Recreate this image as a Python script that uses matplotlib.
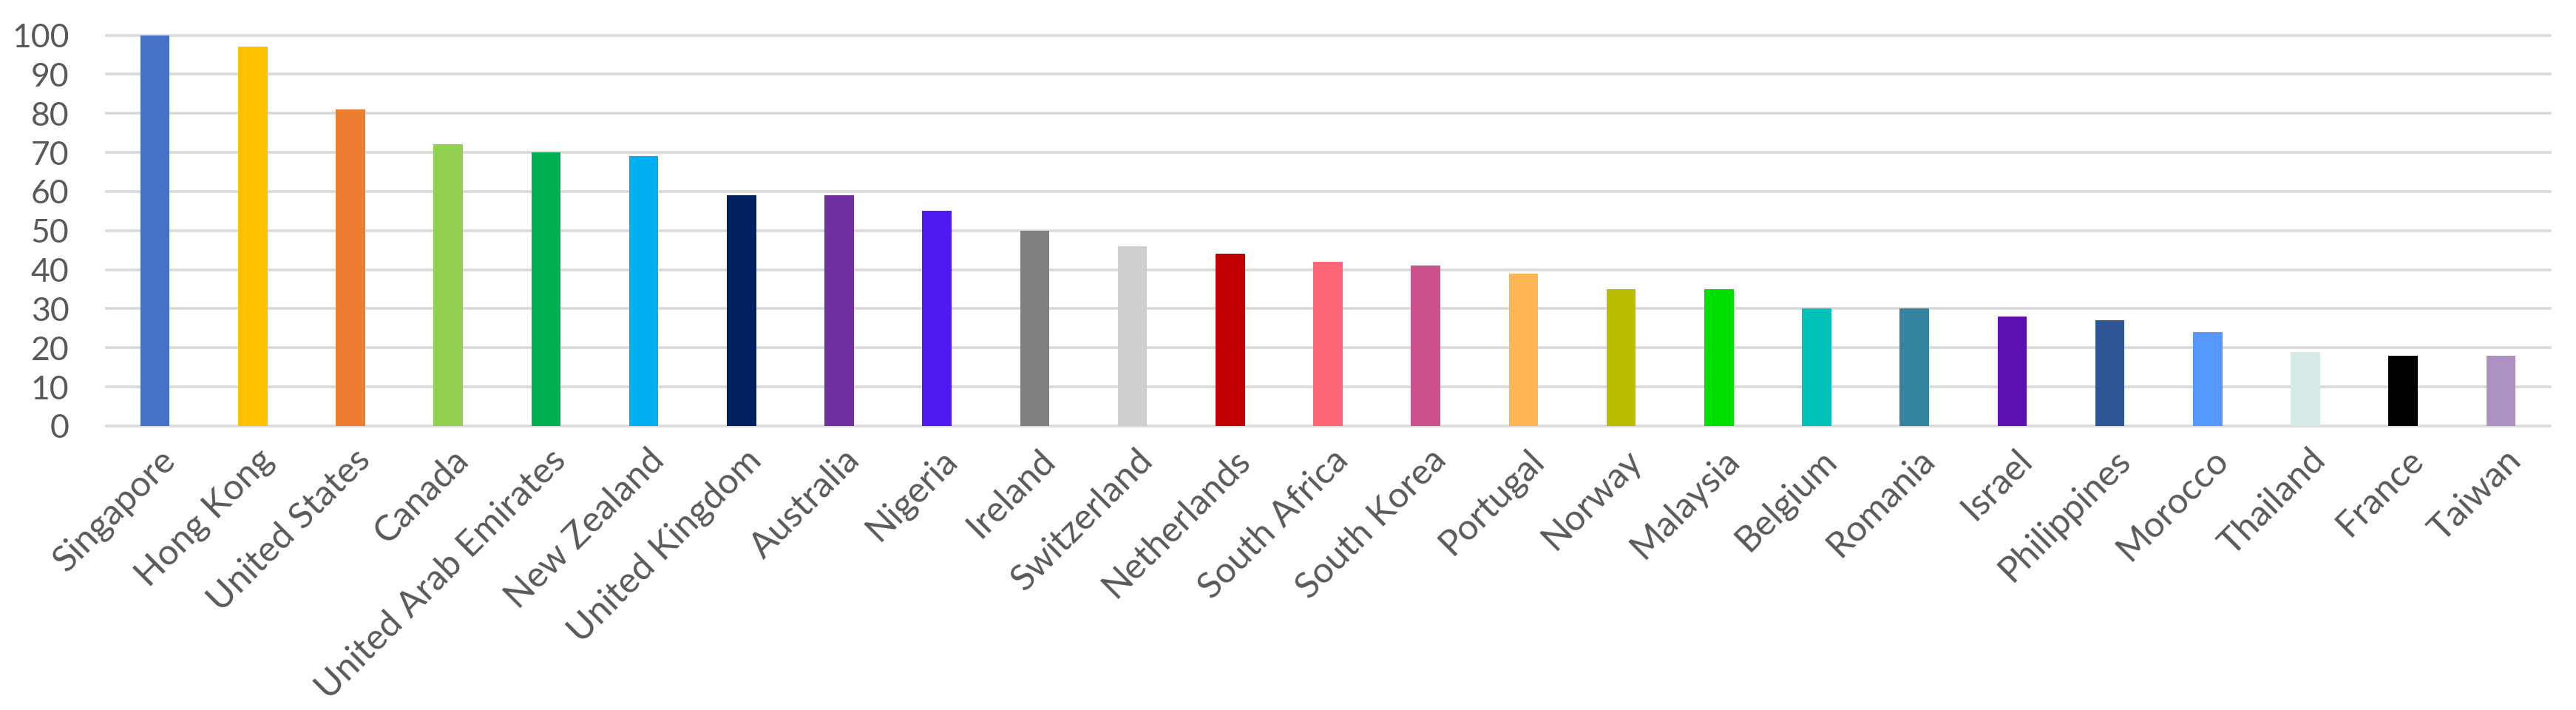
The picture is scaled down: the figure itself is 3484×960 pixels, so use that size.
import matplotlib
matplotlib.use("Agg")
import matplotlib.pyplot as plt
from matplotlib.transforms import ScaledTranslation

countries = ["Singapore", "Hong Kong", "United States", "Canada", "United Arab Emirates",
             "New Zealand", "United Kingdom", "Australia", "Nigeria", "Ireland",
             "Switzerland", "Netherlands", "South Africa", "South Korea", "Portugal",
             "Norway", "Malaysia", "Belgium", "Romania", "Israel", "Philippines",
             "Morocco", "Thailand", "France", "Taiwan"]
values = [100, 97, 81, 72, 70, 69, 59, 59, 55, 50, 46, 44, 42, 41, 39, 35, 35,
          30, 30, 28, 27, 24, 19, 18, 18]
colors = ["#4472C4", "#FFC000", "#ED7D31", "#92D050", "#00B050", "#00B0F0", "#002060",
          "#7030A0", "#501AF2", "#808080", "#D0CECE", "#C00000", "#FF6676", "#CA518B",
          "#FFB455", "#B9BE00", "#00E000", "#00C2B9", "#35849F", "#5B10AF", "#2F5597",
          "#5598FF", "#D6EAEA", "#000000", "#AC91C2"]
yticks = list(range(0, 101, 10))

plt.rcParams['font.family'] = ['Lato', 'DejaVu Sans']

fig = plt.figure(figsize=(34.84, 9.6), dpi=100)
ax = fig.add_axes([143.5 / 3484, 1 - 576 / 960, (3448.5 - 143.5) / 3484, (576 - 47.5) / 960])

x = list(range(len(countries)))
ax.bar(x, values, width=0.30, color=colors, zorder=3, clip_on=False)

for t in yticks:
    ax.axhline(t, color="#D9D9D9", linewidth=2.6, zorder=1, clip_on=False)

ax.set_xlim(-0.5, len(countries) - 0.5)
ax.set_ylim(0, 100)
ax.set_yticks(yticks)
ax.set_yticklabels([str(t) for t in yticks], fontsize=32, color="#595959")
ax.set_xticks(x)
ax.set_xticklabels(countries, rotation=45, ha="right", va="center",
                   rotation_mode="anchor", fontsize=35, color="#595959")
ax.tick_params(axis="y", length=0, pad=36)
ax.tick_params(axis="x", length=0, pad=28)
shift = ScaledTranslation(0.20, 0, fig.dpi_scale_trans)
for lbl in ax.get_xticklabels():
    lbl.set_transform(lbl.get_transform() + shift)
for s in ax.spines.values():
    s.set_visible(False)

fig.savefig("out.png", dpi=100, facecolor="white")
